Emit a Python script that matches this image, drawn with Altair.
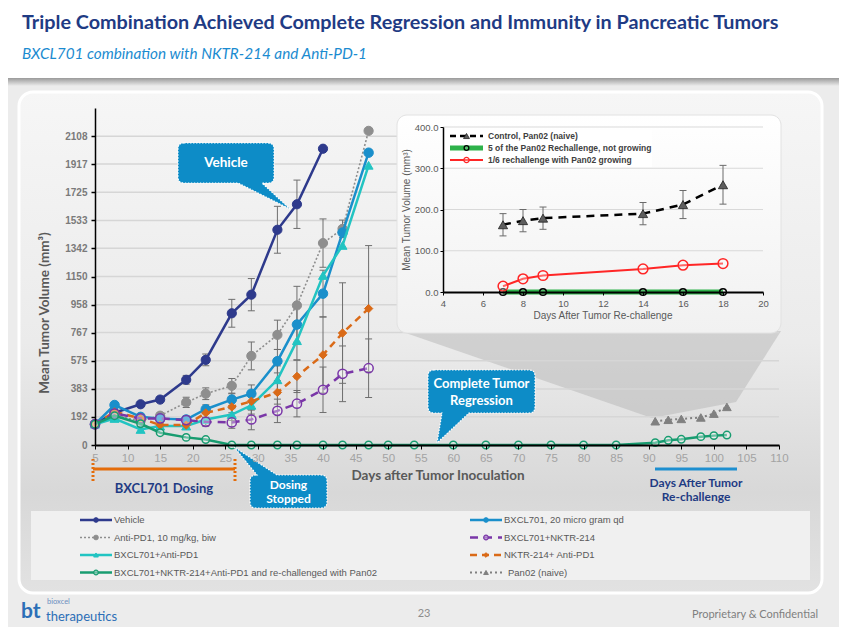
import altair as alt
import pandas as pd

# ---------------- values ----------------
DAYS = [5, 8, 12, 15, 19, 22, 26, 29, 33, 36, 40, 43, 47]

VEHICLE = [142, 220, 278, 310, 445, 581, 899, 1026, 1469, 1643, 2022]
VEHICLE_ERR = [8, 15, 18, 18, 30, 40, 95, 110, 160, 165, 0]

ANTI_PD1 = [142, 200, 165, 200, 291, 350, 404, 608, 752, 953, 1378, 1475, 2144]
ANTI_PD1_ERR = [8, 15, 20, 20, 35, 40, 50, 95, 100, 130, 165, 60, 0]

BXCL701 = [142, 273, 192, 180, 174, 244, 310, 350, 572, 822, 1033, 1450, 1995]
BXCL701_ERR = [8, 20, 20, 20, 25, 30, 40, 60, 80, 120, 160, 0, 0]

BXCL701_PD1 = [142, 181, 106, 129, 129, 174, 208, 271, 445, 712, 1157, 1362, 1909]
BXCL701_PD1_ERR = [8, 15, 20, 20, 20, 40, 40, 60, 95, 130, 0, 0, 0]

NKTR_PD1 = [142, 226, 181, 136, 136, 219, 260, 298, 359, 468, 615, 764, 931]
NKTR_PD1_ERR = [8, 15, 20, 20, 20, 30, 40, 60, 80, 110, 260, 343, 430]

BXCL701_NKTR = [142, 215, 181, 181, 170, 158, 154, 174, 233, 282, 377, 486, 524]
BXCL701_NKTR_ERR = [8, 15, 20, 20, 20, 30, 40, 70, 80, 90, 155, 190, 200]

TRIPLE_DAYS = [5, 8, 12, 15, 19, 22, 26, 29, 33, 36, 40, 43, 47, 50, 54, 60, 65,
               70, 75, 80, 85, 91, 93, 95, 98, 100, 102]
TRIPLE = [142, 200, 145, 84, 52, 37, 0, 0, 0, 0, 0, 0, 0, 0, 0, 0, 0,
          0, 0, 0, 0, 16, 32, 39, 57, 64, 68]

PAN02_DAYS = [91, 93, 95, 98, 100, 102]
PAN02 = [162, 172, 178, 188, 214, 260]

X_TICKS = [5, 10, 15, 20, 25, 30, 35, 40, 45, 50, 55, 60, 65, 70, 75, 80, 85, 90, 95, 100, 105, 110]
Y_TICKS = [0, 192, 383, 575, 767, 958, 1150, 1342, 1533, 1725, 1917, 2108]
Y_MAX = 2300

# inset (re-challenge)
RE_DAYS = [7, 8, 9, 14, 16, 18]
CONTROL = [163, 173, 179, 190, 212, 260]
CONTROL_ERR = [27, 27, 27, 27, 34, 47]
NOT_GROWING = [0, 0, 0, 0, 0, 0]
GROWING = [14, 32, 40, 56, 65, 69]
INSET_X_TICKS = [4, 6, 8, 10, 12, 14, 16, 18, 20]
INSET_Y_TICKS = [0, 100, 200, 300, 400]

LEGEND_LEFT = [("Vehicle", "Vehicle"),
               ("Anti-PD1", "Anti-PD1, 10 mg/kg, biw"),
               ("BXCL701+Anti-PD1", "BXCL701+Anti-PD1"),
               ("Triple", "BXCL701+NKTR-214+Anti-PD1 and re-challenged with Pan02")]
LEGEND_RIGHT = [("BXCL701", "BXCL701, 20 micro gram qd"),
                ("BXCL701+NKTR-214", "BXCL701+NKTR-214"),
                ("NKTR-214+Anti-PD1", "NKTR-214+ Anti-PD1"),
                ("Pan02", "Pan02 (naive)")]
INSET_LEGEND = ["Control, Pan02 (naive)",
                "5 of the Pan02 Rechallenge,  not growing",
                "1/6 rechallenge with Pan02 growing"]

# ---------------- styles ----------------
STYLES = {
    "Vehicle": dict(color="#2E3A8C", width=2.5, dash=None, shape="circle", fill="solid", size=85),
    "Anti-PD1": dict(color="#8E8E8E", width=1.6, dash=[2, 2], shape="circle", fill="solid", size=85),
    "BXCL701": dict(color="#1A8FCB", width=2.5, dash=None, shape="circle", fill="solid", size=90),
    "BXCL701+Anti-PD1": dict(color="#22C4C2", width=2.5, dash=None, shape="triangle-up", fill="solid", size=80),
    "NKTR-214+Anti-PD1": dict(color="#DA6A17", width=2.5, dash=[7, 5], shape="diamond", fill="solid", size=70),
    "BXCL701+NKTR-214": dict(color="#7A36A8", width=2.5, dash=[8, 6], shape="circle", fill="open", size=85),
    "Triple": dict(color="#189C70", width=2.5, dash=None, shape="circle", fill="open", size=55),
    "Pan02": dict(color="#808080", width=2, dash=[2, 3], shape="triangle-up", fill="solid", size=75),
}
ERR = "#6E6E6E"
NAVY = "#1F3B84"
CALLOUT = "#0D8CC7"
LATO = "Lato"
ARIAL = "Liberation Sans"

# ---------------- layout helpers ----------------
OX, OY = 95, 108          # page position of main plot origin
W, H = 684, 337           # main plot area


def X(px):
    return px - OX


def Y(py):
    return py - OY


ONE = pd.DataFrame({"k": [0]})


def rect(x0, y0, x1, y1, **kw):
    return alt.Chart(ONE).mark_rect(**kw).encode(
        x=alt.value(X(x0)), x2=alt.value(X(x1)), y=alt.value(Y(y0)), y2=alt.value(Y(y1)))


def seg(x0, y0, x1, y1, **kw):
    return alt.Chart(ONE).mark_rule(**kw).encode(
        x=alt.value(X(x0)), x2=alt.value(X(x1)), y=alt.value(Y(y0)), y2=alt.value(Y(y1)))


def txt(s, px, py, size=12, color="#333333", font=ARIAL, weight="normal",
        align="left", baseline="middle", angle=None, italic=False):
    kw = dict(text=s, fontSize=size, color=color, font=font, fontWeight=weight,
              align=align, baseline=baseline)
    if angle is not None:
        kw["angle"] = angle
    if italic:
        kw["fontStyle"] = "italic"
    return alt.Chart(ONE).mark_text(**kw).encode(x=alt.value(X(px)), y=alt.value(Y(py)))


def shape_at(path, px, py, **kw):
    return alt.Chart(ONE).mark_point(shape=path, size=4, opacity=1, **kw).encode(
        x=alt.value(X(px)), y=alt.value(Y(py)))


def vgrad(*stops):
    return {"gradient": "linear", "x1": 0, "y1": 0, "x2": 0, "y2": 1,
            "stops": [{"offset": o, "color": c} for o, c in stops]}


def callout_path(x0, y0, x1, y1, r, side, a, b, tip):
    def P(x, y):
        return f"{x - x0:.1f},{y - y0:.1f}"
    d = [f"M{P(x0 + r, y0)}"]
    if side == "top":
        d += [f"L{P(a, y0)}", f"L{P(*tip)}", f"L{P(b, y0)}"]
    d += [f"L{P(x1 - r, y0)}", f"Q{P(x1, y0)} {P(x1, y0 + r)}",
          f"L{P(x1, y1 - r)}", f"Q{P(x1, y1)} {P(x1 - r, y1)}"]
    if side == "bottom":
        d += [f"L{P(b, y1)}", f"L{P(*tip)}", f"L{P(a, y1)}"]
    d += [f"L{P(x0 + r, y1)}", f"Q{P(x0, y1)} {P(x0, y1 - r)}",
          f"L{P(x0, y0 + r)}", f"Q{P(x0, y0)} {P(x0 + r, y0)}", "Z"]
    return " ".join(d)


def callout(x0, y0, x1, y1, side, a, b, tip):
    return shape_at(callout_path(x0, y0, x1, y1, 6, side, a, b, tip), x0, y0,
                    filled=True, fill=CALLOUT, stroke="#FFFFFF", strokeWidth=1.2,
                    strokeDash=[1.5, 1.5])


def marker_kw(st, sw=1.5):
    c = st["color"]
    if st["fill"] == "solid":
        return dict(filled=True, fill=c, stroke=c, strokeWidth=1)
    return dict(filled=True, fill="#FFFFFF", fillOpacity=0.35, stroke=c, strokeWidth=sw)


def line_kw(st, maxw=None):
    kw = dict(color=st["color"], strokeWidth=st["width"] if maxw is None else min(maxw, st["width"]))
    if st["dash"]:
        kw["strokeDash"] = st["dash"]
    return kw


# ---------------- main plot ----------------
MX = alt.Scale(domain=[5, 110], nice=False, zero=False)
MY = alt.Scale(domain=[0, Y_MAX], nice=False, zero=False)
AXX = alt.Axis(orient="bottom", values=X_TICKS, format="d", title=None, grid=False,
               domainColor="#000000", domainWidth=2, tickColor="#000000", tickSize=4,
               tickWidth=1, labelColor="#A3A3A3", labelFont=ARIAL, labelFontSize=11.5,
               labelPadding=3, labelFlush=False, zindex=1)
AXY = alt.Axis(orient="left", values=Y_TICKS, format="d", title=None, grid=False,
               domainColor="#000000", domainWidth=1.5, tickColor="#000000", tickSize=4,
               tickWidth=1.5, labelColor="#7A7A7A", labelFont=ARIAL, labelFontSize=10,
               labelFontWeight="bold", labelPadding=4, zindex=1)


def mx(f):
    return alt.X(f, type="quantitative", scale=MX, axis=AXX)


def my(f):
    return alt.Y(f, type="quantitative", scale=MY, axis=AXY)


MAIN = [
    ("Vehicle", DAYS[:len(VEHICLE)], VEHICLE, VEHICLE_ERR),
    ("Anti-PD1", DAYS, ANTI_PD1, ANTI_PD1_ERR),
    ("BXCL701", DAYS, BXCL701, BXCL701_ERR),
    ("BXCL701+Anti-PD1", DAYS, BXCL701_PD1, BXCL701_PD1_ERR),
    ("NKTR-214+Anti-PD1", DAYS, NKTR_PD1, NKTR_PD1_ERR),
    ("BXCL701+NKTR-214", DAYS, BXCL701_NKTR, BXCL701_NKTR_ERR),
    ("Triple", TRIPLE_DAYS, TRIPLE, None),
    ("Pan02", PAN02_DAYS, PAN02, None),
]

grid_df = pd.DataFrame({"v": Y_TICKS[1:], "x0": 5, "x1": 110})
main_layers = [alt.Chart(grid_df).mark_rule(color="#D6D6D6", strokeWidth=1.5).encode(
    x=mx("x0"), x2=alt.X2("x1"), y=my("v"))]

for name, d, v, e in MAIN:
    if e is None:
        continue
    df = pd.DataFrame({"day": d, "v": v, "e": e})
    df = df[df.e > 0].copy()
    df["lo"] = df.v - df.e
    df["hi"] = df.v + df.e
    main_layers.append(alt.Chart(df).mark_rule(color=ERR, strokeWidth=1).encode(
        x=mx("day"), y=my("lo"), y2=alt.Y2("hi")))
    for f in ("lo", "hi"):
        main_layers.append(alt.Chart(df).mark_tick(orient="horizontal", size=7, thickness=1,
                                                   color=ERR, opacity=1).encode(x=mx("day"), y=my(f)))

for name, d, v, e in MAIN:
    st = STYLES[name]
    df = pd.DataFrame({"day": d, "v": v})
    main_layers.append(alt.Chart(df).mark_line(**line_kw(st)).encode(x=mx("day"), y=my("v")))
    main_layers.append(alt.Chart(df).mark_point(shape=st["shape"], size=st["size"], opacity=1,
                                                **marker_kw(st)).encode(x=mx("day"), y=my("v")))

main_group = alt.layer(*main_layers)

# ---------------- inset plot ----------------
IX = alt.Scale(domain=[4, 20], range=[X(443), X(763)], nice=False, zero=False)
IY = alt.Scale(domain=[0, 400], range=[Y(292), Y(127)], nice=False, zero=False)
IAXX = alt.Axis(orient="bottom", offset=-(H - Y(292)), values=INSET_X_TICKS, format="d",
                title=None, grid=False, domainColor="#000000", domainWidth=2,
                tickColor="#000000", tickSize=3, labelColor="#5A5A5A", labelFont=ARIAL,
                labelFontSize=9.5, labelPadding=3, labelFlush=False, zindex=1)
IAXY = alt.Axis(orient="left", offset=-X(443), values=INSET_Y_TICKS, format=".1f",
                title=None, grid=False, domainColor="#000000", domainWidth=1.5,
                tickColor="#000000", tickSize=3, labelColor="#5A5A5A", labelFont=ARIAL,
                labelFontSize=9.5, labelPadding=2, zindex=1)


def ix(f):
    return alt.X(f, type="quantitative", scale=IX, axis=IAXX)


def iy(f):
    return alt.Y(f, type="quantitative", scale=IY, axis=IAXY)


igrid = pd.DataFrame({"v": INSET_Y_TICKS[1:], "x0": 4, "x1": 20})
ctrl = pd.DataFrame({"day": RE_DAYS, "v": CONTROL, "e": CONTROL_ERR})
ctrl["lo"] = ctrl.v - ctrl.e
ctrl["hi"] = ctrl.v + ctrl.e
notg = pd.DataFrame({"day": RE_DAYS, "v": NOT_GROWING})
grow = pd.DataFrame({"day": RE_DAYS, "v": GROWING})

inset_layers = [
    alt.Chart(igrid).mark_rule(color="#D9D9D9", strokeWidth=1).encode(
        x=ix("x0"), x2=alt.X2("x1"), y=iy("v")),
    alt.Chart(ctrl).mark_rule(color="#6A6A6A", strokeWidth=1).encode(
        x=ix("day"), y=iy("lo"), y2=alt.Y2("hi")),
    alt.Chart(ctrl).mark_tick(orient="horizontal", size=7, thickness=1, color="#6A6A6A",
                              opacity=1).encode(x=ix("day"), y=iy("lo")),
    alt.Chart(ctrl).mark_tick(orient="horizontal", size=7, thickness=1, color="#6A6A6A",
                              opacity=1).encode(x=ix("day"), y=iy("hi")),
    alt.Chart(ctrl).mark_line(color="#000000", strokeWidth=2.5, strokeDash=[8, 6]).encode(
        x=ix("day"), y=iy("v")),
    alt.Chart(ctrl).mark_point(shape="triangle-up", size=85, filled=True, fill="#5E5E5E",
                               stroke="#222222", strokeWidth=0.8, opacity=1).encode(
        x=ix("day"), y=iy("v")),
    alt.Chart(notg).mark_line(color="#2EB24A", strokeWidth=5).encode(x=ix("day"), y=iy("v")),
    alt.Chart(notg).mark_point(shape="circle", size=45, filled=True, fill="#FFFFFF",
                               fillOpacity=0.2, stroke="#000000", strokeWidth=1.5,
                               opacity=1).encode(x=ix("day"), y=iy("v")),
    alt.Chart(grow).mark_line(color="#FF2626", strokeWidth=2).encode(x=ix("day"), y=iy("v")),
    alt.Chart(grow).mark_point(shape="circle", size=95, filled=True, fill="#FFFFFF",
                               fillOpacity=0.3, stroke="#FF2626", strokeWidth=1.5,
                               opacity=1).encode(x=ix("day"), y=iy("v")),
]
inset_group = alt.layer(*inset_layers)

# ---------------- slide decoration ----------------
back = [
    rect(0, 0, 847, 635, color="#ECECEC"),
    rect(0, 0, 847, 78, color="#FFFFFF"),
    rect(0, 78, 847, 86, fill=vgrad((0, "#9A9A9A"), (1, "#ECECEC"))),
    rect(19, 92, 822, 593, cornerRadius=14, stroke="#FFFFFF", strokeWidth=3,
         fill=vgrad((0, "#F6F6F6"), (0.5, "#EBEBEB"), (0.8, "#D8D8D8"), (1, "#E2E2E2"))),
    rect(31, 511, 810, 580, color="#F0F0F0"),
    shape_at("M0,0 L381,0 L336,71 L252,87 Z", 400, 331, filled=True, fill="#B5B5B5",
             fillOpacity=0.5, strokeWidth=0),
]

mid = [
    rect(397, 115, 781, 333, cornerRadius=10, stroke="#E2E2E2", strokeWidth=1,
         fill=vgrad((0, "#FFFFFF"), (1, "#F1F1F1"))),
]

top = []
# inset legend
top.append(rect(445, 130, 652, 167, color="#FFFFFF"))
top.append(seg(450, 136, 483, 136, color="#000000", strokeWidth=2.5, strokeDash=[6, 4]))
top.append(alt.Chart(ONE).mark_point(shape="triangle-up", size=35, filled=True, fill="#5E5E5E",
                                     stroke="#222222", strokeWidth=0.8, opacity=1).encode(
    x=alt.value(X(466.5)), y=alt.value(Y(136))))
top.append(seg(450, 148, 483, 148, color="#2EB24A", strokeWidth=5))
top.append(alt.Chart(ONE).mark_point(shape="circle", size=22, filled=True, fill="#FFFFFF",
                                     fillOpacity=0.2, stroke="#000000", strokeWidth=1.3,
                                     opacity=1).encode(x=alt.value(X(466.5)), y=alt.value(Y(148))))
top.append(seg(450, 160, 483, 160, color="#FF2626", strokeWidth=2))
top.append(alt.Chart(ONE).mark_point(shape="circle", size=28, filled=True, fill="#FFFFFF",
                                     fillOpacity=0.3, stroke="#FF2626", strokeWidth=1.3,
                                     opacity=1).encode(x=alt.value(X(466.5)), y=alt.value(Y(160))))
for i, lab in enumerate(INSET_LEGEND):
    top.append(txt(lab, 488, 136 + 12 * i, size=8.5, color="#404040", weight="bold"))
# inset axis titles
top.append(txt("Days After Tumor Re-challenge", 603, 316, size=10, color="#595959", align="center"))
top.append(txt("Mean Tumor Volume (mm³)", 407, 210, size=10, color="#595959",
               align="center", angle=270))

# callouts
top.append(callout(178, 143, 274, 183, "bottom", 238, 262, (290, 209)))
top.append(txt("Vehicle", 226, 163, size=13.5, color="#FFFFFF", font=LATO, weight="bold",
               align="center"))
top.append(callout(428, 370, 535, 413, "bottom", 442, 469, (437, 443)))
top.append(txt("Complete Tumor", 481.5, 384, size=13, color="#FFFFFF", font=LATO,
               weight="bold", align="center"))
top.append(txt("Regression", 481.5, 401, size=13, color="#FFFFFF", font=LATO,
               weight="bold", align="center"))
top.append(callout(250, 475, 327, 508, "top", 257, 277, (234, 447)))
top.append(txt("Dosing", 288.5, 485, size=12, color="#FFFFFF", font=LATO, weight="bold",
               align="center"))
top.append(txt("Stopped", 288.5, 499, size=12, color="#FFFFFF", font=LATO, weight="bold",
               align="center"))

# dosing bracket and re-challenge bar
top.append(seg(93, 469, 235, 469, color="#E46C0A", strokeWidth=3))
top.append(seg(93, 459, 93, 483, color="#E46C0A", strokeWidth=3, strokeDash=[2, 2]))
top.append(seg(235, 459, 235, 483, color="#E46C0A", strokeWidth=3, strokeDash=[2, 2]))
top.append(txt("BXCL701 Dosing", 164, 489, size=13, color=NAVY, font=LATO, weight="bold",
               align="center"))
top.append(seg(655, 469, 737, 469, color="#1E8FD0", strokeWidth=3))
top.append(txt("Days After Tumor", 696, 483, size=12, color=NAVY, font=LATO, weight="bold",
               align="center"))
top.append(txt("Re-challenge", 696, 497, size=12, color=NAVY, font=LATO, weight="bold",
               align="center"))

# main axis titles
top.append(txt("Days after Tumor Inoculation", 438, 476, size=13.5, color="#595959",
               font=LATO, weight="bold", align="center"))
top.append(txt("Mean Tumor Volume  (mm³)", 45, 313, size=13.5, color="#595959", font=LATO,
               weight="bold", align="center", angle=270))

# main legend
for col, (x0, entries) in enumerate([(80, LEGEND_LEFT), (470, LEGEND_RIGHT)]):
    for i, (key, lab) in enumerate(entries):
        yy = 520 + 17.5 * i
        st = STYLES[key]
        top.append(seg(x0, yy, x0 + 32, yy, **line_kw(st, maxw=2.5)))
        top.append(alt.Chart(ONE).mark_point(shape=st["shape"], size=22, opacity=1,
                                             **marker_kw(st, sw=1.2)).encode(
            x=alt.value(X(x0 + 16)), y=alt.value(Y(yy))))
        shift = 4 if key == "Pan02" else 0
        top.append(txt(lab, x0 + 34 + shift, yy, size=9.5, color="#595959"))

# header and footer
top.append(txt("Triple Combination Achieved Complete Regression and Immunity in Pancreatic Tumors",
               22, 23, size=19.8, color=NAVY, font=LATO, weight="bold"))
top.append(txt("BXCL701 combination with NKTR-214 and Anti-PD-1", 22, 54, size=15.3,
               color="#1B8BD0", font=LATO, italic=True))
top.append(txt("bt", 21, 612, size=21, color="#2C6FB7", font=LATO, weight="bold"))
top.append(txt("bioxcel", 47, 602, size=7.5, color="#6C8EBF", font=LATO))
top.append(txt("therapeutics", 46, 617, size=13, color="#2C6FB7", font=LATO))
top.append(txt("23", 424, 614, size=11, color="#8C8C8C", font=LATO, align="center"))
top.append(txt("Proprietary & Confidential", 818, 615, size=11, color="#7F7F7F", font=LATO,
               align="right"))

chart = alt.layer(*back, main_group, *mid, inset_group, *top).resolve_scale(
    x="independent", y="independent"
).properties(
    width=W, height=H,
    padding={"left": OX - 8, "top": OY - 8, "right": 831 - (OX - 8) - W,
             "bottom": 619 - (OY - 8) - H},
    autosize=alt.AutoSizeParams(type="none"),
    background="#ECECEC",
).configure_view(strokeWidth=0)

chart.save("out.html", embed_options={"renderer": "svg", "actions": False})
